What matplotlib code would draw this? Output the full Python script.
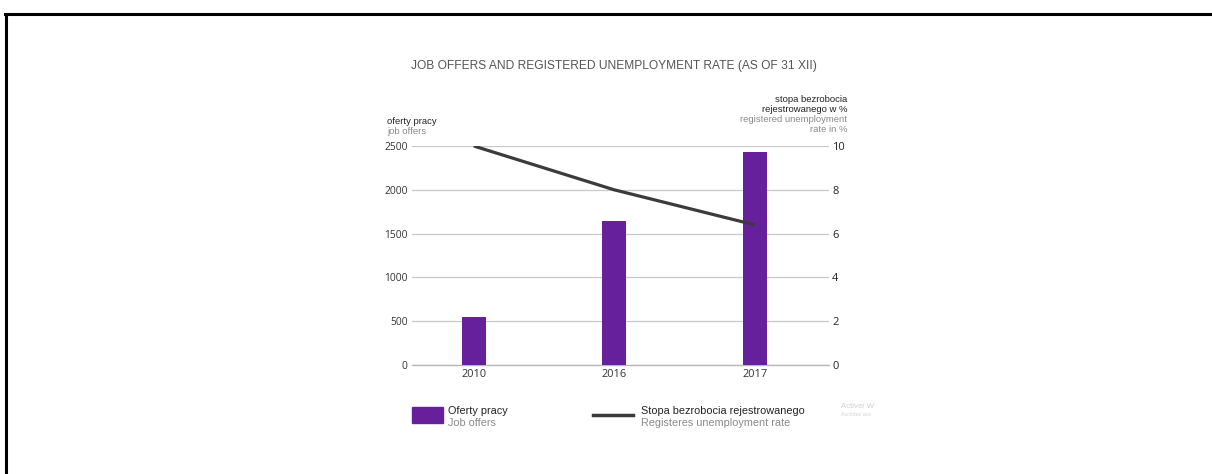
import matplotlib.pyplot as plt
import matplotlib.lines as mlines
import matplotlib.patches as mpatches

# Data
years = ['2010', '2016', '2017']
job_offers = [550, 1640, 2430]
unemployment_rate = [10.0, 8.0, 6.4]
left_ticks = [0, 500, 1000, 1500, 2000, 2500]
right_ticks = [0, 2, 4, 6, 8, 10]

purple = '#66209c'
line_col = '#3b3b3b'
grid_col = '#c8c8c8'
txt = '#333333'
gray = '#8a8a8a'

plt.rcParams['font.family'] = ['Liberation Sans', 'DejaVu Sans']

W, H = 1212, 474
fig = plt.figure(figsize=(W / 100, H / 100), dpi=100)

def fx(px):
    return px / W

def fy(py):
    return 1 - py / H

# Frame lines (top and left) seen on the screenshot
fig.add_artist(mlines.Line2D([fx(5), 1], [fy(13.5), fy(13.5)], color='black', lw=2.2))
fig.add_artist(mlines.Line2D([fx(6), fx(6)], [0, fy(13.5)], color='black', lw=2.2))

ax = fig.add_axes([fx(412), fy(365), fx(829) - fx(412), (365 - 146) / H])
x = list(range(len(years)))
ax.bar(x, job_offers, width=0.17, color=purple, zorder=3)
ax.set_xlim(-0.44, 2.53)
ax.set_ylim(0, 2500)
ax.set_yticks(left_ticks)
ax.set_xticks(x)
ax.set_xticklabels(years)
ax.yaxis.grid(True, color=grid_col, lw=0.9, zorder=0)
ax.axhline(0, color='#b8b8b8', lw=1.0, zorder=1, clip_on=False)
for s in ax.spines.values():
    s.set_visible(False)
ax.tick_params(axis='y', length=0, labelsize=7.4, labelcolor=txt, pad=3)
ax.tick_params(axis='x', length=0, labelsize=7.9, labelcolor=txt, pad=3)
for lab in ax.get_xticklabels() + ax.get_yticklabels():
    lab.set_family(['Open Sans', 'DejaVu Sans'])

ax2 = ax.twinx()
ax2.plot(x, unemployment_rate, color=line_col, lw=2.3, solid_capstyle='butt', zorder=4)
ax2.set_ylim(0, 10)
ax2.set_yticks(right_ticks)
for s in ax2.spines.values():
    s.set_visible(False)
ax2.tick_params(axis='y', length=0, labelsize=8, labelcolor='#222222', pad=2.2)
for lab in ax2.get_yticklabels():
    lab.set_family(['Open Sans', 'DejaVu Sans'])

# Title
fig.text(fx(613.5), fy(66), 'JOB OFFERS AND REGISTERED UNEMPLOYMENT RATE (AS OF 31 XII)',
         ha='center', va='center', fontsize=8.65, color='#555555')

# Axis headings
fig.text(fx(387), fy(122), 'oferty pracy', ha='left', va='center', fontsize=6.8, color='#222222')
fig.text(fx(387), fy(132), 'job offers', ha='left', va='center', fontsize=6.8, color=gray)
fig.text(fx(847), fy(100), 'stopa bezrobocia', ha='right', va='center', fontsize=6.8, color='#222222')
fig.text(fx(847), fy(110), 'rejestrowanego w %', ha='right', va='center', fontsize=6.8, color='#222222')
fig.text(fx(847), fy(120), 'registered unemployment', ha='right', va='center', fontsize=6.8, color=gray)
fig.text(fx(847), fy(130), 'rate in %', ha='right', va='center', fontsize=6.8, color=gray)

# Legend drawn by hand to mimic the two-line entries
fig.add_artist(mpatches.Rectangle((fx(412), fy(423)), fx(443) - fx(412), (423 - 407) / H,
                                  color=purple, transform=fig.transFigure))
fig.text(fx(448), fy(411), 'Oferty pracy', ha='left', va='center', fontsize=7.8, color='#222222')
fig.text(fx(448), fy(423), 'Job offers', ha='left', va='center', fontsize=7.8, color=gray)
fig.add_artist(mlines.Line2D([fx(593), fx(633)], [fy(415), fy(415)], color=line_col, lw=2.5))
fig.text(fx(641), fy(411), 'Stopa bezrobocia rejestrowanego', ha='left', va='center',
         fontsize=7.8, color='#222222')
fig.text(fx(641), fy(423), 'Registeres unemployment rate', ha='left', va='center',
         fontsize=7.8, color=gray)

# faint watermark
fig.text(fx(841), fy(407), 'Activer W', ha='left', va='center', fontsize=5.5, color='#d0d0d0')
fig.text(fx(841), fy(415), 'Accédez aux', ha='left', va='center', fontsize=3.8, color='#d5d5d5')

fig.savefig('out.png', dpi=100)
